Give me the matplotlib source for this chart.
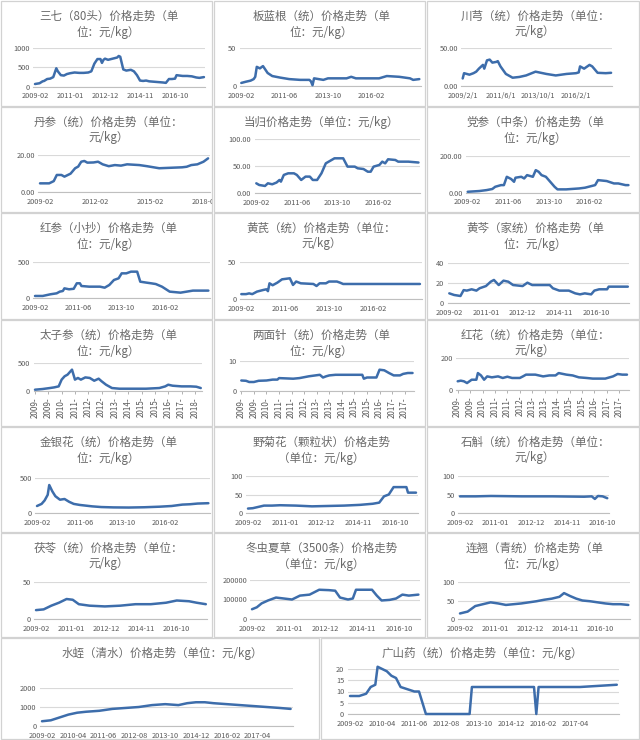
import numpy as np
import matplotlib
matplotlib.use('Agg')
import matplotlib.pyplot as plt
from matplotlib.patches import Rectangle
from matplotlib.transforms import Bbox, TransformedBbox

plt.rcParams['font.family'] = ['Noto Sans CJK SC', 'DejaVu Sans']

# ---------------- data (month offset from 2009-02, value) ----------------
sanqi_m = [0, 3, 5, 6, 8, 10, 12, 14, 15, 17, 19, 21, 23, 26, 29, 32, 35, 37, 39, 41, 43, 44, 45, 46, 48, 50, 52, 54, 55, 56, 58, 60, 63, 65, 67, 69, 71, 73, 75, 78, 81, 84, 86, 88, 90, 92, 93, 95, 97, 100, 103, 106, 108, 111]
sanqi_v = [70, 90, 140, 150, 200, 210, 250, 480, 400, 300, 290, 330, 350, 370, 360, 360, 370, 400, 600, 720, 720, 620, 700, 730, 700, 720, 740, 760, 800, 780, 450, 420, 440, 400, 300, 160, 150, 160, 140, 130, 120, 110, 100, 200, 200, 210, 300, 290, 280, 280, 270, 240, 230, 250]

banlangen_m = [0, 3, 6, 8, 9, 10, 12, 14, 15, 17, 20, 25, 31, 38, 44, 45, 46, 47, 50, 53, 56, 68, 71, 74, 89, 94, 102, 109, 111, 115]
banlangen_v = [4, 5.6, 7, 9, 12, 25, 23, 26, 23, 17, 13, 11, 9, 8, 8, 6, 1, 10, 9, 8, 10, 10, 12, 10, 10, 13, 12, 10, 8, 9]

chuanxiong_m = [0, 1, 5, 8, 10, 12, 15, 16, 18, 20, 22, 25, 26, 28, 32, 37, 42, 47, 54, 62, 69, 77, 84, 86, 87, 90, 94, 96, 100, 106, 110]
chuanxiong_v = [10, 17, 15, 17, 19, 23, 28, 23, 34, 35, 31, 32, 33, 26, 16, 11, 12, 14, 19, 16, 14, 16, 17, 18, 26, 23, 28, 26, 17.5, 17, 17.5]

danshen_m = [0, 6, 9, 11, 14, 16, 20, 23, 25, 27, 29, 31, 35, 38, 41, 45, 49, 53, 57, 65, 70, 78, 87, 93, 96, 99, 103, 107, 110]
danshen_v = [4.8, 4.8, 6, 9.3, 9.3, 8.4, 10, 12.9, 13.8, 16.4, 16.8, 15.9, 16, 16.4, 15, 14, 14.6, 14.3, 15, 14.6, 14, 12.9, 13.2, 13.4, 13.7, 14.6, 15, 16.4, 18.2]

danggui_m = [0, 2, 6, 8, 11, 14, 16, 17, 19, 22, 26, 28, 31, 34, 37, 39, 42, 45, 48, 50, 54, 60, 63, 68, 70, 74, 77, 79, 81, 85, 87, 89, 91, 96, 98, 105, 112]
danggui_v = [18.5, 15.4, 13.6, 18.5, 16.7, 20, 24.7, 21.6, 34, 37, 37, 34, 24.7, 30.9, 30.9, 24.7, 24.7, 37, 55.5, 58.6, 64.8, 64.8, 49.4, 49.4, 46.3, 45, 40, 40, 49.4, 52.5, 58.6, 55.5, 63, 61.7, 58.6, 58.6, 57]

dangshen_m = [0, 8, 13, 17, 19, 23, 25, 27, 30, 32, 33, 37, 39, 41, 45, 47, 49, 51, 54, 56, 60, 62, 68, 77, 81, 88, 90, 96, 101, 104, 109, 111]
dangshen_v = [5, 9, 14, 20, 32, 41, 41, 86, 74, 59, 81, 86, 77, 95, 86, 122, 113, 95, 86, 68, 32, 18, 18, 23, 27, 41, 68, 63, 50, 50, 41, 41]

hongshen_m = [0, 5, 10, 14, 16, 18, 19, 22, 25, 27, 29, 30, 35, 42, 45, 48, 51, 54, 56, 59, 62, 66, 68, 72, 75, 78, 82, 84, 87, 94, 98, 102, 112]
hongshen_v = [32, 32, 55, 68, 91, 100, 136, 123, 130, 205, 205, 168, 159, 159, 145, 182, 250, 273, 341, 341, 364, 364, 227, 214, 205, 195, 159, 132, 91, 77, 91, 105, 105]

huangqi_m = [0, 3, 5, 7, 10, 14, 16, 17, 18, 20, 23, 26, 31, 33, 35, 38, 46, 48, 50, 54, 56, 61, 63, 65, 114]
huangqi_v = [7, 7, 8, 7, 10.4, 12.6, 13.5, 11, 21.6, 19, 22.5, 27, 28.4, 19.4, 24, 21.6, 20.7, 18, 21.6, 21.6, 24, 24, 22.5, 20.7, 20.7]

huangqin_m = [0, 3, 7, 9, 11, 14, 17, 19, 23, 26, 28, 31, 34, 37, 40, 46, 49, 52, 63, 65, 69, 75, 79, 82, 85, 89, 91, 94, 99, 100, 104, 112]
huangqin_v = [9.8, 8.2, 7.2, 13, 12.5, 13.8, 12.5, 14.8, 17, 21.3, 23, 18, 22.3, 21.3, 18, 17, 20.3, 18, 18, 14.8, 12.5, 12.5, 9.8, 8.8, 9.8, 8.8, 12.5, 13.8, 13.8, 16.4, 16.4, 16.4]

taizishen_m = [0, 5, 10, 13, 16, 18, 20, 22, 25, 27, 29, 31, 34, 37, 40, 43, 45, 48, 52, 57, 66, 75, 84, 88, 90, 93, 99, 105, 109, 112]
taizishen_v = [18, 30, 48, 60, 78, 200, 260, 290, 380, 200, 230, 200, 240, 230, 180, 217, 170, 108, 48, 36, 36, 36, 48, 78, 108, 90, 78, 78, 72, 48]

liangmianzhen_m = [0, 3, 5, 8, 11, 16, 20, 23, 24, 33, 37, 43, 50, 52, 54, 56, 60, 77, 78, 80, 86, 88, 91, 94, 97, 101, 103, 106, 109]
liangmianzhen_v = [3.4, 3.3, 2.9, 2.9, 3.3, 3.4, 3.7, 3.7, 4.2, 4.0, 4.2, 4.8, 5.3, 4.4, 4.8, 5.1, 5.3, 5.3, 4.0, 4.4, 4.4, 7.0, 6.8, 5.9, 5.1, 5.1, 5.6, 5.9, 5.9]

honghua_m = [0, 2, 4, 6, 9, 12, 13, 15, 17, 19, 22, 26, 29, 32, 35, 40, 42, 44, 50, 55, 59, 63, 65, 70, 74, 78, 83, 87, 95, 100, 103, 106, 109]
honghua_v = [53, 57, 53, 42, 63, 63, 105, 90, 63, 84, 78, 84, 74, 82, 74, 74, 84, 95, 95, 84, 90, 90, 105, 95, 90, 78, 74, 70, 70, 84, 99, 95, 95]

jinyinhua_m = [0, 3, 5, 7, 8, 10, 12, 15, 18, 21, 24, 28, 32, 36, 42, 50, 60, 70, 80, 88, 95, 100, 105, 112]
jinyinhua_v = [100, 130, 180, 260, 400, 310, 240, 190, 200, 160, 130, 115, 105, 95, 85, 80, 78, 82, 90, 100, 120, 125, 135, 140]

yejuhua_m = [0, 3, 6, 10, 15, 20, 30, 40, 50, 60, 70, 78, 82, 85, 88, 91, 95, 99, 100, 105]
yejuhua_v = [12, 13, 16, 20, 20, 21, 20, 18, 19, 20, 22, 25, 28, 45, 50, 70, 70, 70, 55, 55]

shihu_m = [0, 10, 20, 40, 60, 80, 85, 87, 89, 92, 95]
shihu_v = [45, 45, 46, 45, 45, 44, 45, 38, 46, 45, 40]

fuling_m = [0, 5, 10, 15, 20, 24, 28, 35, 45, 55, 65, 75, 85, 92, 100, 105, 111]
fuling_v = [12, 13, 18, 22, 27, 26, 20, 18, 17, 18, 20, 20, 22, 25, 24, 22, 20]

chongcao_m = [0, 3, 6, 10, 15, 20, 25, 30, 36, 42, 48, 52, 55, 60, 63, 65, 70, 75, 78, 81, 86, 90, 94, 98, 104]
chongcao_v = [50000, 60000, 80000, 95000, 110000, 105000, 100000, 120000, 125000, 150000, 148000, 145000, 110000, 100000, 105000, 150000, 150000, 150000, 120000, 95000, 98000, 105000, 125000, 120000, 125000]

lianqiao_m = [0, 5, 10, 15, 20, 25, 30, 35, 40, 45, 50, 55, 60, 65, 68, 72, 76, 80, 85, 90, 95, 100, 105, 110]
lianqiao_v = [15, 20, 35, 40, 45, 42, 38, 40, 42, 45, 48, 52, 55, 60, 70, 62, 55, 50, 48, 45, 42, 40, 40, 38]

shuizhi_m = [0, 4, 8, 12, 16, 20, 26, 32, 38, 44, 50, 56, 62, 66, 70, 74, 78, 84, 90, 96, 102, 108, 113]
shuizhi_v = [250, 300, 450, 600, 700, 750, 800, 900, 950, 1000, 1100, 1150, 1100, 1200, 1250, 1250, 1200, 1150, 1100, 1050, 1000, 950, 900]

shanyao_m = [0, 4, 7, 9, 11, 12, 14, 16, 18, 20, 22, 25, 28, 30, 33, 52, 53, 80, 81, 82, 100, 116]
shanyao_v = [8, 8, 9, 12, 13, 21, 20, 19, 17, 16, 12, 11, 10, 10, 0, 0, 12, 12, 0, 12, 12, 13]

# tick label sets
xt_23 = [0, 23, 46, 69, 92]
xl_23 = ['2009-02', '2011-01', '2012-12', '2014-11', '2016-10']
xt_28 = [0, 28, 56, 84]
xl_28 = ['2009-02', '2011-06', '2013-10', '2016-02']
xl_28s = ['2009/2/1', '2011/6/1', '2013/10/1', '2016/2/1']
xt_36 = [0, 36, 72, 108]
xl_36 = ['2009-02', '2012-02', '2015-02', '2018-02']
xt_9 = [0, 9, 18, 27, 36, 45, 54, 63, 72, 81, 90, 99, 108]
xl_9 = ['2009-', '2009-', '2010-', '2011-', '2012-', '2012-', '2013-', '2014-', '2015-', '2015-', '2016-', '2017-', '2018-']
xt_8 = [0, 8, 16, 24, 32, 40, 48, 56, 64, 72, 80, 88, 96, 104]
xl_8 = ['2009-', '2009-', '2010-', '2011-', '2011-', '2012-', '2013-', '2013-', '2014-', '2015-', '2015-', '2016-', '2017-', '2017-']
xt_14 = [0, 14, 28, 42, 56, 70, 84, 98]
xl_14 = ['2009-02', '2010-04', '2011-06', '2012-08', '2013-10', '2014-12', '2016-02', '2017-04']

# ---------------- drawing ----------------
W, H = 640, 740
fig = plt.figure(figsize=(6.4, 7.4), dpi=100)
fig.patch.set_facecolor('white')

BLUE = '#3D6DAB'
GRID = '#D9D9D9'
TXT = '#595959'
TTL = '#6A6A6A'


def panel(box, title, ty, m, v, px0, ppm, last, ytop, y0, yticks, ylabels,
          xt, xl, rot=False):
    bx0, by0, bx1, by1 = box
    fig.add_artist(Rectangle((bx0 / W, 1 - by1 / H), (bx1 - bx0) / W, (by1 - by0) / H,
                             transform=fig.transFigure, fill=False,
                             ec='#D2D2D2', lw=0.9))
    for i, line in enumerate(title.split('\n')):
        fig.text(((bx0 + bx1) / 2 + 2) / W, 1 - (by0 + ty + 16 * i) / H, line,
                 ha='center', va='center', fontsize=8.3, color=TTL)
    pad = 1.0
    left = px0 - pad * ppm
    width = ppm * (last + 2 * pad)
    ax = fig.add_axes([left / W, 1 - y0 / H, width / W, (y0 - ytop) / H])
    ax.patch.set_alpha(0)
    ax.set_xlim(-pad, last + pad)
    ax.set_ylim(0, yticks[-1])
    ax.plot(m, v, color=BLUE, lw=1.8, solid_joinstyle='round',
            solid_capstyle='round', clip_on=False, zorder=3)
    ax.set_yticks(yticks)
    ax.set_yticklabels(ylabels)
    ax.set_xticks(xt)
    labs = ax.set_xticklabels(xl, rotation=90 if rot else 0)
    for s in ['top', 'right', 'left']:
        ax.spines[s].set_visible(False)
    ax.spines['bottom'].set_color('#BFBFBF')
    ax.spines['bottom'].set_linewidth(0.8)
    ax.grid(axis='y', color=GRID, lw=0.8)
    ax.set_axisbelow(True)
    ax.tick_params(axis='y', length=0, pad=2.5, labelsize=5.3, labelcolor=TXT)
    ax.tick_params(axis='x', length=2.5 if rot else 0, width=0.6, color='#A6A6A6',
                   pad=4 if not rot else 2, labelsize=5.8 if rot else 5.3,
                   labelcolor=TXT)
    clip = TransformedBbox(Bbox.from_extents(bx0 / W, 1 - by1 / H, bx1 / W, 1 - by0 / H),
                           fig.transFigure)
    for t in labs:
        t.set_clip_box(clip)
        t.set_clip_on(True)
    return ax


C0 = (1, 212)
C1 = (214, 425)
C2 = (427, 639)
R = [(1, 106), (107, 212), (213, 319), (320, 426), (427, 532), (533, 637), (638, 739)]


def bx(c, r):
    return (c[0], R[r][0], c[1], R[r][1])


# Row 1
panel(bx(C0, 0), '三七（80头）价格走势（单\n位：元/kg）', 15, sanqi_m, sanqi_v,
      35, 1.522, 111, 48.3, 86.7, [0, 500, 1000], ['0', '500', '1000'], xt_23, xl_23)
panel(bx(C1, 0), '板蓝根（统）价格走势（单\n位：元/kg）', 15, banlangen_m, banlangen_v,
      241.3, 1.548, 115, 47.7, 86, [0, 50], ['0', '50'], xt_28, xl_28)
panel(bx(C2, 0), '川芎（统）价格走势（单位：\n元/kg）', 15, chuanxiong_m, chuanxiong_v,
      462.7, 1.349, 110, 48.3, 86, [0, 50], ['0.00', '50.00'], xt_28, xl_28s)
# Row 2
panel(bx(C0, 1), '丹参（统）价格走势（单位：\n元/kg）', 15, danshen_m, danshen_v,
      40, 1.528, 110, 155, 192.3, [0, 20], ['0.00', '20.00'], xt_36, xl_36)
panel(bx(C1, 1), '当归价格走势（单位：元/kg）', 15, danggui_m, danggui_v,
      256.3, 1.448, 112, 139.3, 193.3, [0, 50, 100], ['0.00', '50.00', '100.00'], xt_28, xl_28)
panel(bx(C2, 1), '党参（中条）价格走势（单\n位：元/kg）', 15, dangshen_m, dangshen_v,
      467.7, 1.448, 111, 155.7, 192.7, [0, 200], ['0.00', '200.00'], xt_28, xl_28)
# Row 3
panel(bx(C0, 2), '红参（小抄）价格走势（单\n位：元/kg）', 15, hongshen_m, hongshen_v,
      35, 1.548, 112, 261.7, 298.3, [0, 500], ['0', '500'], xt_28, xl_28)
panel(bx(C1, 2), '黄芪（统）价格走势（单位：\n元/kg）', 15, huangqi_m, huangqi_v,
      241.3, 1.567, 114, 262.3, 299.3, [0, 50], ['0', '50'], xt_28, xl_28)
panel(bx(C2, 2), '黄芩（家统）价格走势（单\n位：元/kg）', 15, huangqin_m, huangqin_v,
      449.3, 1.594, 112, 262.7, 303.3, [0, 20, 40], ['0', '20', '40'], xt_23, xl_23)
# Row 4
panel(bx(C0, 3), '太子参（统）价格走势（单\n位：元/kg）', 15, taizishen_m, taizishen_v,
      35, 1.48, 112, 363, 390.7, [0, 500], ['0', '500'], xt_9, xl_9, rot=True)
panel(bx(C1, 3), '两面针（统）价格走势（单\n位：元/kg）', 15, liangmianzhen_m, liangmianzhen_v,
      241.3, 1.571, 109, 360.7, 390.7, [0, 10], ['0', '10'], xt_8, xl_8, rot=True)
panel(bx(C2, 3), '红花（统）价格走势（单位：\n元/kg）', 15, honghua_m, honghua_v,
      457.7, 1.553, 109, 358, 389.7, [0, 200], ['0', '200'], xt_8, xl_8, rot=True)
# Row 5
panel(bx(C0, 4), '金银花（统）价格走势（单\n位：元/kg）', 15, jinyinhua_m, jinyinhua_v,
      37, 1.53, 112, 478, 513, [0, 500], ['0', '500'], xt_28, xl_28)
panel(bx(C1, 4), '野菊花（颗粒状）价格走势\n（单位：元/kg）', 15, yejuhua_m, yejuhua_v,
      248, 1.6, 105, 476, 513, [0, 50, 100], ['0', '50', '100'], xt_23, xl_23)
panel(bx(C2, 4), '石斛（统）价格走势（单位：\n元/kg）', 15, shihu_m, shihu_v,
      460, 1.55, 95, 476, 513, [0, 50, 100], ['0', '50', '100'], xt_23, xl_23)
# Row 6
panel(bx(C0, 5), '茯苓（统）价格走势（单位：\n元/kg）', 15, fuling_m, fuling_v,
      36, 1.53, 111, 582, 619, [0, 50], ['0', '50'], xt_23, xl_23)
panel(bx(C1, 5), '冬虫夏草（3500条）价格走势\n（单位：元/kg）', 15, chongcao_m, chongcao_v,
      252, 1.6, 104, 580, 619, [0, 100000, 200000], ['0', '100000', '200000'], xt_23, xl_23)
panel(bx(C2, 5), '连翘（青统）价格走势（单\n位：元/kg）', 15, lianqiao_m, lianqiao_v,
      460, 1.53, 110, 582, 619, [0, 50, 100], ['0', '50', '100'], xt_23, xl_23)
# Row 7
panel((1, 638, 319, 739), '水蛭（清水）价格走势（单位：元/kg）', 15, shuizhi_m, shuizhi_v,
      42, 2.2, 113, 688, 726, [0, 1000, 2000], ['0', '1000', '2000'], xt_14, xl_14)
panel((321, 638, 639, 739), '广山药（统）价格走势（单位：元/kg）', 15, shanyao_m, shanyao_v,
      350, 2.3, 116, 669, 714, [0, 5, 10, 15, 20], ['0', '5', '10', '15', '20'], xt_14, xl_14)

fig.savefig('out.png', dpi=100, facecolor='white')
